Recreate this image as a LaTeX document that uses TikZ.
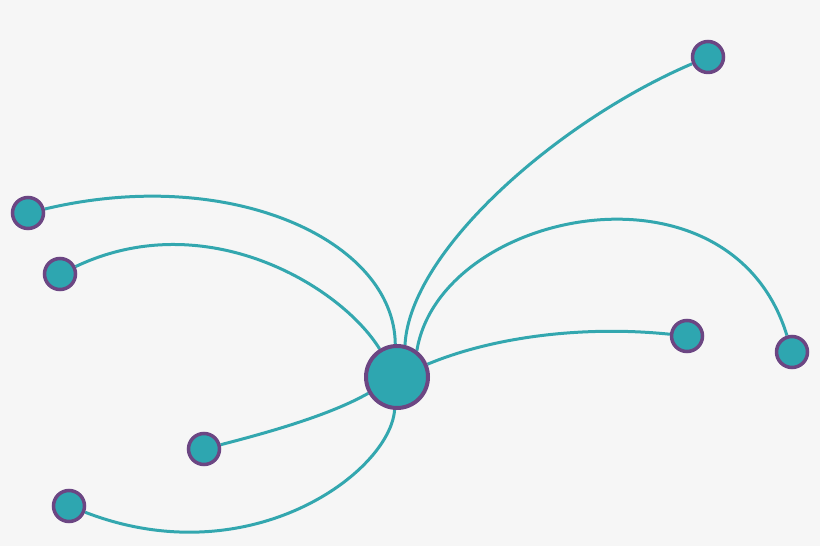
\documentclass[tikz,border=0pt]{standalone}
\usetikzlibrary{backgrounds}

\definecolor{bggrey}{HTML}{F6F6F6}
\definecolor{tealfill}{HTML}{2EA6B0}
\definecolor{purpleedge}{HTML}{6C4683}
\definecolor{tealline}{HTML}{33A7AF}

\begin{document}
\begin{tikzpicture}[x=0.02cm, y=-0.02cm,
        hub/.style={circle, fill=tealfill, draw=purpleedge, line width=0.08cm, minimum size=1.24cm, inner sep=0pt},
        leaf/.style={circle, fill=tealfill, draw=purpleedge, line width=0.07cm, minimum size=0.62cm, inner sep=0pt},
        link/.style={draw=tealline, line width=0.06cm}]
            \useasboundingbox (0,0) rectangle (820,546);

            \node[hub] (hub) at (397,377) {};

            \node[leaf] (ne) at (708,57) {};
            \node[leaf] (nw) at (28,213) {};
            \node[leaf] (wnw) at (60,274) {};
            \node[leaf] (eaway) at (792,352) {};
            \node[leaf] (enear) at (687,336) {};
            \node[leaf] (swnear) at (204,449) {};
            \node[leaf] (swaway) at (69,506) {};

            \begin{scope}[on background layer]
            \fill[bggrey] (0,0) rectangle (820,546);

            \draw[link] (hub.93) .. controls (394,240) and (230,165) .. (nw);
            \draw[link] (hub) .. controls (340,285) and (205,205) .. (wnw);
            \draw[link] (hub.76) .. controls (410,250) and (560,120) .. (ne);
            \draw[link] (hub.53) .. controls (440,210) and (730,150) .. (eaway);
            \draw[link] (hub) .. controls (490,338) and (580,325) .. (enear);
            \draw[link] (hub) .. controls (390,472) and (250,576) .. (swaway);
            \draw[link] (hub) .. controls (330,415) and (270,432) .. (swnear);
            % \draw[link, dashed] (hub) -- (ne);
            \end{scope}

        \end{tikzpicture}
\end{document}
